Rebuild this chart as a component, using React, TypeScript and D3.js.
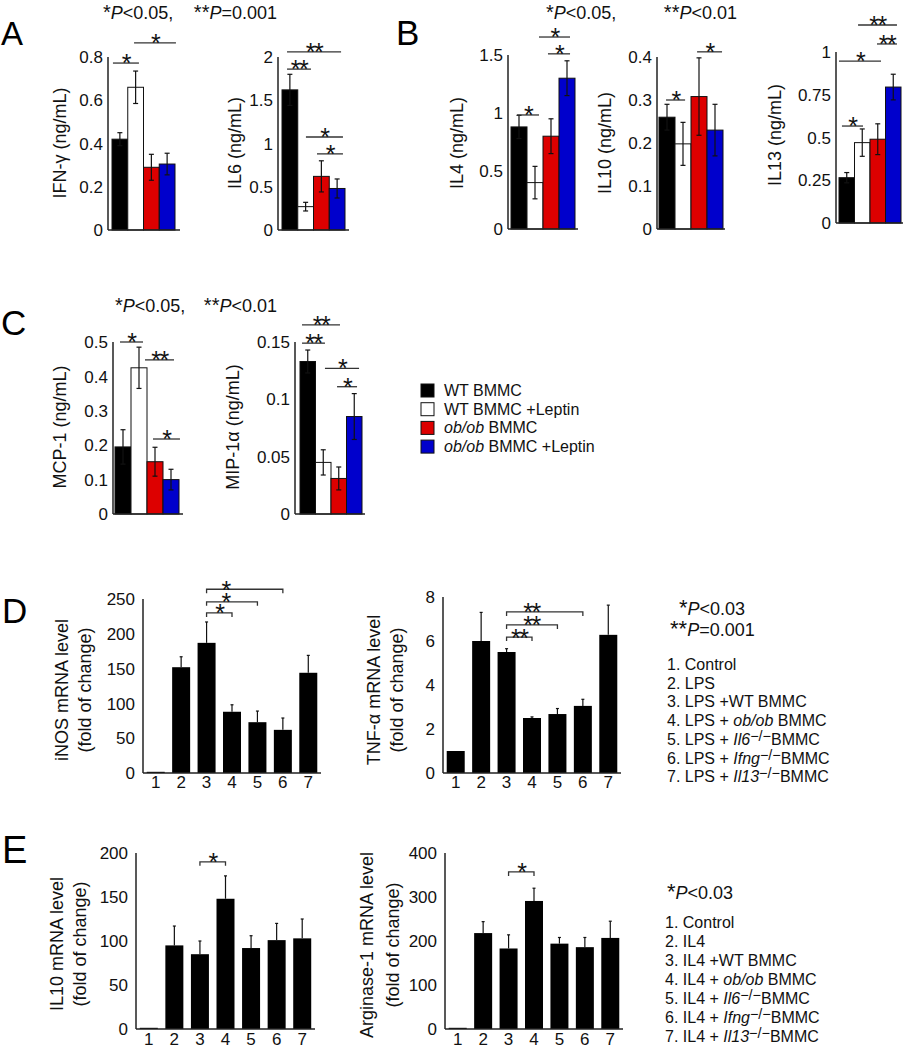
import React from "react";
import * as d3 from "d3";

const FONT = "'Liberation Sans', Arial, Helvetica, sans-serif";

// ---------- Panels A-C data (4 groups) ----------
const groupNames = ["WT BMMC", "WT BMMC +Leptin", "ob/ob BMMC", "ob/ob BMMC +Leptin"];
const groupColors = ["#000000", "#ffffff", "#dd0000", "#0000cc"];

const ifngMean = [0.42, 0.66, 0.29, 0.305];
const ifngErr = [0.03, 0.075, 0.06, 0.05];
const ifngTicks = [0, 0.2, 0.4, 0.6, 0.8];

const il6Mean = [1.62, 0.27, 0.62, 0.48];
const il6Err = [0.18, 0.05, 0.18, 0.11];
const il6Ticks = [0, 0.5, 1, 1.5, 2];

const il4Mean = [0.88, 0.4, 0.8, 1.3];
const il4Err = [0.1, 0.14, 0.15, 0.15];
const il4Ticks = [0, 0.5, 1, 1.5];

const il10Mean = [0.26, 0.198, 0.308, 0.23];
const il10Err = [0.03, 0.05, 0.09, 0.06];
const il10Ticks = [0, 0.1, 0.2, 0.3, 0.4];

const il13Mean = [0.265, 0.47, 0.49, 0.795];
const il13Err = [0.03, 0.08, 0.09, 0.075];
const il13Ticks = [0, 0.25, 0.5, 0.75, 1];

const mcp1Mean = [0.195, 0.425, 0.152, 0.1];
const mcp1Err = [0.05, 0.06, 0.042, 0.03];
const mcp1Ticks = [0, 0.1, 0.2, 0.3, 0.4, 0.5];

const mip1aMean = [0.133, 0.045, 0.031, 0.085];
const mip1aErr = [0.01, 0.011, 0.01, 0.02];
const mip1aTicks = [0, 0.05, 0.1, 0.15];

// significance lines: [from (bar units), to (bar units), y value, stars]
const ifngSig: [number, number, number, string][] = [[0.06, 1.71, 0.772, "*"], [1.4, 4.06, 0.865, "*"]];
const il6Sig: [number, number, number, string][] = [[0.32, 3.75, 2.06, "**"], [0.32, 1.84, 1.86, "**"], [1.52, 3.87, 1.075, "*"], [2.22, 3.87, 0.88, "*"]];
const il4Sig: [number, number, number, string][] = [[0.375, 1.75, 0.983, "*"], [1.75, 3.69, 1.655, "*"], [2.31, 3.69, 1.51, "*"]];
const il10Sig: [number, number, number, string][] = [[0.44, 1.63, 0.3, "*"], [2.38, 3.94, 0.412, "*"]];
const il13Sig: [number, number, number, string][] = [[0.19, 1.55, 0.567, "*"], [0.0, 2.71, 0.947, "*"], [2.45, 3.74, 1.047, "**"], [1.23, 3.74, 1.158, "**"]];
const mcp1Sig: [number, number, number, string][] = [[0.31, 1.75, 0.5, "*"], [1.875, 3.69, 0.448, "**"], [2.375, 4.06, 0.218, "*"]];
const mip1aSig: [number, number, number, string][] = [[0.13, 2.58, 0.165, "**"], [0.13, 1.61, 0.149, "**"], [1.61, 3.81, 0.127, "*"], [2.39, 3.68, 0.111, "*"]];

// ---------- Panels D-E data (7 conditions) ----------
const conditionIds = ["1", "2", "3", "4", "5", "6", "7"];

const inosMean = [1, 152, 187, 88, 73, 62, 144];
const inosErr = [0, 15, 30, 10, 16, 17, 25];
const inosTicks = [0, 50, 100, 150, 200, 250];
const inosSig: [number, number, number, string][] = [[2, 3, 230, "*"], [2, 4, 246, "*"], [2, 5, 264, "*"]];

const tnfMean = [1, 6.0, 5.5, 2.5, 2.68, 3.05, 6.28];
const tnfErr = [0, 1.3, 0.15, 0.05, 0.25, 0.3, 1.35];
const tnfTicks = [0, 2, 4, 6, 8];
const tnfSig: [number, number, number, string][] = [[2, 3, 6.18, "**"], [2, 4, 6.73, "**"], [2, 5, 7.32, "**"]];

const il10mMean = [1, 95, 85, 148, 92, 101, 103];
const il10mErr = [0, 22, 15, 26, 14, 19, 22];
const il10mTicks = [0, 50, 100, 150, 200];
const il10mSig: [number, number, number, string][] = [[2, 3, 190, "*"]];

const argMean = [1, 218, 183, 291, 194, 186, 207];
const argErr = [0, 26, 31, 29, 14, 22, 38];
const argTicks = [0, 100, 200, 300, 400];
const argSig: [number, number, number, string][] = [[2, 3, 357, "*"]];

type Seg = { t: string; i?: boolean; sup?: boolean };
const lpsList: Seg[][] = [
  [{ t: "1. Control" }],
  [{ t: "2. LPS" }],
  [{ t: "3. LPS +WT BMMC" }],
  [{ t: "4. LPS + " }, { t: "ob/ob", i: true }, { t: " BMMC" }],
  [{ t: "5. LPS + " }, { t: "Il6", i: true }, { t: "−/−", sup: true }, { t: "BMMC" }],
  [{ t: "6. LPS + " }, { t: "Ifng", i: true }, { t: "−/−", sup: true }, { t: "BMMC" }],
  [{ t: "7. LPS + " }, { t: "Il13", i: true }, { t: "−/−", sup: true }, { t: "BMMC" }],
];
const il4List: Seg[][] = [
  [{ t: "1. Control" }],
  [{ t: "2. IL4" }],
  [{ t: "3. IL4 +WT BMMC" }],
  [{ t: "4. IL4 + " }, { t: "ob/ob", i: true }, { t: " BMMC" }],
  [{ t: "5. IL4 + " }, { t: "Il6", i: true }, { t: "−/−", sup: true }, { t: "BMMC" }],
  [{ t: "6. IL4 + " }, { t: "Ifng", i: true }, { t: "−/−", sup: true }, { t: "BMMC" }],
  [{ t: "7. IL4 + " }, { t: "Il13", i: true }, { t: "−/−", sup: true }, { t: "BMMC" }],
];

const AX = "#222";
const TICK_FS = 17;
const LABEL_FS = 18;
const STAR_FS = 25;

function Segs({ x, y, segs, fs }: { x: number; y: number; segs: Seg[]; fs: number }) {
  let shifted = false;
  return (
    <text x={x} y={y} fontSize={fs} fontFamily={FONT} fill="#111">
      {segs.map((s, k) => {
        let dy = 0;
        if (s.sup && !shifted) { dy = -4; shifted = true; }
        else if (!s.sup && shifted) { dy = 4; shifted = false; }
        return (
          <tspan key={k} dy={dy || undefined} fontStyle={s.i ? "italic" : undefined} fontSize={s.sup ? fs * 0.9 : undefined}>
            {s.t}
          </tspan>
        );
      })}
    </text>
  );
}

function Stars({ x, y, st }: { x: number; y: number; st: string }) {
  return (
    <text x={x} y={y} textAnchor="middle" fontSize={STAR_FS} letterSpacing={-1.5} fontFamily={FONT} fill="#111">{st}</text>
  );
}

type GSpec = {
  mean: number[]; err: number[]; ticks: number[]; yMax: number;
  axisX: number; axisEnd: number; barStart: number; barEnd: number;
  yTop: number; yBot: number; label: string; labelX: number; labelY: number;
  sigs: [number, number, number, string][];
};

function GroupChart({ s }: { s: GSpec }) {
  const y = d3.scaleLinear().domain([0, s.yMax]).range([s.yBot, s.yTop]);
  const x = d3.scaleBand<number>().domain(d3.range(s.mean.length)).range([s.barStart, s.barEnd]).padding(0);
  const bw = x.bandwidth();
  const fx = (f: number) => s.barStart + f * bw;
  return (
    <g>
      {s.mean.map((v, i) => (
        <rect key={"b" + i} x={x(i)} y={y(v)} width={bw} height={y(0) - y(v)} fill={groupColors[i]} stroke="#111" strokeWidth={1} />
      ))}
      {s.mean.map((v, i) => {
        const cx = (x(i) as number) + bw / 2;
        return (
          <g key={"e" + i} stroke="#111" strokeWidth={1.2}>
            <line x1={cx} x2={cx} y1={y(v + s.err[i])} y2={y(v - s.err[i])} />
            <line x1={cx - 2.5} x2={cx + 2.5} y1={y(v + s.err[i])} y2={y(v + s.err[i])} />
            <line x1={cx - 2.5} x2={cx + 2.5} y1={y(v - s.err[i])} y2={y(v - s.err[i])} />
          </g>
        );
      })}
      <line x1={s.axisX} x2={s.axisX} y1={s.yBot} y2={y(s.yMax)} stroke={AX} strokeWidth={1.5} />
      <line x1={s.axisX} x2={s.axisEnd} y1={s.yBot} y2={s.yBot} stroke={AX} strokeWidth={1.5} />
      {s.ticks.map((t) => (
        <text key={"t" + t} x={s.axisX - 5} y={y(t)} dy="0.36em" textAnchor="end" fontSize={TICK_FS} fontFamily={FONT} fill="#111">
          {String(t)}
        </text>
      ))}
      <text transform={`translate(${s.labelX},${s.labelY}) rotate(-90)`} textAnchor="middle" dy="0.35em" fontSize={LABEL_FS} fontFamily={FONT} fill="#111">
        {s.label}
      </text>
      {s.sigs.map(([a, b, v, st], k) => (
        <g key={"s" + k}>
          <line x1={fx(a)} x2={fx(b)} y1={y(v)} y2={y(v)} stroke="#333" strokeWidth={1.3} />
          <Stars x={(fx(a) + fx(b)) / 2} y={y(v) + 9} st={st} />
        </g>
      ))}
    </g>
  );
}

type MSpec = {
  mean: number[]; err: number[]; ticks: number[]; yMax: number;
  axisX: number; axisEnd: number; yTop: number; yBot: number;
  label1: string; label2: string; lx1: number; lx2: number; labelY: number; tickY: number;
  sigs: [number, number, number, string][];
};

function MrnaChart({ s }: { s: MSpec }) {
  const y = d3.scaleLinear().domain([0, s.yMax]).range([s.yBot, s.yTop]);
  const x = d3.scalePoint<string>().domain(conditionIds).range([s.axisX, s.axisEnd]).padding(0.5);
  const bw = 18;
  return (
    <g>
      {s.mean.map((v, i) => {
        const cx = x(conditionIds[i]) as number;
        const h = Math.max(y(0) - y(v), 1.2);
        return <rect key={"b" + i} x={cx - bw / 2} y={y(0) - h} width={bw} height={h} fill="#000" />;
      })}
      {s.mean.map((v, i) => {
        if (!s.err[i]) return null;
        const cx = x(conditionIds[i]) as number;
        return (
          <g key={"e" + i} stroke="#111" strokeWidth={1.2}>
            <line x1={cx} x2={cx} y1={y(v)} y2={y(v + s.err[i])} />
            <line x1={cx - 1.5} x2={cx + 1.5} y1={y(v + s.err[i])} y2={y(v + s.err[i])} />
          </g>
        );
      })}
      <line x1={s.axisX} x2={s.axisX} y1={s.yBot} y2={y(s.yMax)} stroke={AX} strokeWidth={1.5} />
      <line x1={s.axisX} x2={s.axisEnd} y1={s.yBot} y2={s.yBot} stroke={AX} strokeWidth={1.5} />
      {s.ticks.map((t) => (
        <text key={"t" + t} x={s.axisX - 8} y={y(t)} dy="0.36em" textAnchor="end" fontSize={TICK_FS} fontFamily={FONT} fill="#111">
          {String(t)}
        </text>
      ))}
      {conditionIds.map((c) => (
        <text key={"x" + c} x={x(c)} y={s.tickY} textAnchor="middle" fontSize={TICK_FS} fontFamily={FONT} fill="#111">{c}</text>
      ))}
      <text transform={`translate(${s.lx1},${s.labelY}) rotate(-90)`} textAnchor="middle" dy="0.35em" fontSize={LABEL_FS} fontFamily={FONT} fill="#111">{s.label1}</text>
      <text transform={`translate(${s.lx2},${s.labelY}) rotate(-90)`} textAnchor="middle" dy="0.35em" fontSize={LABEL_FS} fontFamily={FONT} fill="#111">{s.label2}</text>
      {s.sigs.map(([a, b, v, st], k) => {
        const x1 = x(conditionIds[a]) as number;
        const x2 = x(conditionIds[b]) as number;
        const cx = x1 + Math.min((x2 - x1) / 2, 13 + 6 * st.length);
        return (
          <g key={"s" + k}>
            <path d={`M${x1},${y(v) + 4}V${y(v)}H${x2}V${y(v) + 4}`} fill="none" stroke="#333" strokeWidth={1.3} />
            <Stars x={cx} y={y(v) + 9.5} st={st} />
          </g>
        );
      })}
    </g>
  );
}

function PText({ x, y, stars, rest, fs, anchor, starFs }: { x: number; y: number; stars: string; rest: string; fs: number; anchor?: string; starFs?: number }) {
  return (
    <text x={x} y={y} fontSize={fs} fontFamily={FONT} fill="#111" textAnchor={anchor}>
      <tspan fontSize={starFs || fs}>{stars}</tspan>
      <tspan fontStyle="italic">P</tspan>
      {rest}
    </text>
  );
}

export default function App() {
  const ifng: GSpec = { mean: ifngMean, err: ifngErr, ticks: ifngTicks, yMax: 0.8, axisX: 108, axisEnd: 180, barStart: 112, barEnd: 175, yTop: 57, yBot: 230, label: "IFN-γ (ng/mL)", labelX: 60, labelY: 143, sigs: ifngSig };
  const il6: GSpec = { mean: il6Mean, err: il6Err, ticks: il6Ticks, yMax: 2, axisX: 278, axisEnd: 349, barStart: 282, barEnd: 345, yTop: 57, yBot: 230, label: "IL6 (ng/mL)", labelX: 235, labelY: 143, sigs: il6Sig };
  const il4: GSpec = { mean: il4Mean, err: il4Err, ticks: il4Ticks, yMax: 1.5, axisX: 508, axisEnd: 578, barStart: 511, barEnd: 575, yTop: 55, yBot: 229, label: "IL4 (ng/mL)", labelX: 457, labelY: 143, sigs: il4Sig };
  const il10: GSpec = { mean: il10Mean, err: il10Err, ticks: il10Ticks, yMax: 0.4, axisX: 657, axisEnd: 725, barStart: 659, barEnd: 723, yTop: 57, yBot: 229, label: "IL10 (ng/mL)", labelX: 605, labelY: 143, sigs: il10Sig };
  const il13: GSpec = { mean: il13Mean, err: il13Err, ticks: il13Ticks, yMax: 1, axisX: 836, axisEnd: 903, barStart: 839, barEnd: 901, yTop: 52, yBot: 223, label: "IL13 (ng/mL)", labelX: 775, labelY: 135, sigs: il13Sig };
  const mcp1: GSpec = { mean: mcp1Mean, err: mcp1Err, ticks: mcp1Ticks, yMax: 0.5, axisX: 113, axisEnd: 183, barStart: 115, barEnd: 179, yTop: 342, yBot: 514, label: "MCP-1 (ng/mL)", labelX: 60, labelY: 427, sigs: mcp1Sig };
  const mip1a: GSpec = { mean: mip1aMean, err: mip1aErr, ticks: mip1aTicks, yMax: 0.15, axisX: 295, axisEnd: 365, barStart: 300, barEnd: 362, yTop: 342, yBot: 514, label: "MIP-1α (ng/mL)", labelX: 233, labelY: 427, sigs: mip1aSig };

  const inos: MSpec = { mean: inosMean, err: inosErr, ticks: inosTicks, yMax: 250, axisX: 143, axisEnd: 321, yTop: 599, yBot: 773, label1: "iNOS mRNA level", label2: "(fold of change)", lx1: 62, lx2: 85, labelY: 690, tickY: 788, sigs: inosSig };
  const tnf: MSpec = { mean: tnfMean, err: tnfErr, ticks: tnfTicks, yMax: 8, axisX: 443, axisEnd: 621, yTop: 597, yBot: 773, label1: "TNF-α mRNA level", label2: "(fold of change)", lx1: 374, lx2: 397, labelY: 690, tickY: 788, sigs: tnfSig };
  const il10m: MSpec = { mean: il10mMean, err: il10mErr, ticks: il10mTicks, yMax: 200, axisX: 136, axisEnd: 315, yTop: 853, yBot: 1029, label1: "IL10 mRNA level", label2: "(fold of change)", lx1: 57, lx2: 80, labelY: 944, tickY: 1045, sigs: il10mSig };
  const arg: MSpec = { mean: argMean, err: argErr, ticks: argTicks, yMax: 400, axisX: 445, axisEnd: 623, yTop: 853, yBot: 1029, label1: "Arginase-1 mRNA level", label2: "(fold of change)", lx1: 367, lx2: 393, labelY: 945, tickY: 1045, sigs: argSig };

  return (
    <svg width={906} height={1050} style={{ position: "absolute", left: 0, top: 0, background: "#fff" }} fontFamily={FONT}>
      <rect width={906} height={1050} fill="#fff" />
      {/* Panel letters */}
      <text x={1} y={45} fontSize={33} fontFamily={FONT}>A</text>
      <text x={396} y={45} fontSize={35} fontFamily={FONT}>B</text>
      <text x={1} y={335} fontSize={35} fontFamily={FONT}>C</text>
      <text x={2} y={623} fontSize={35} fontFamily={FONT}>D</text>
      <text x={2} y={863} fontSize={38} fontFamily={FONT}>E</text>

      {/* Titles */}
      <PText x={103} y={19} stars="*" rest="<0.05," fs={18} starFs={20} />
      <PText x={277} y={19} stars="**" rest="=0.001" fs={18} starFs={20} anchor="end" />
      <PText x={546} y={19} stars="*" rest="<0.05," fs={18} starFs={20} />
      <PText x={737} y={19} stars="**" rest="<0.01" fs={18} starFs={20} anchor="end" />
      <PText x={115} y={312} stars="*" rest="<0.05," fs={18} starFs={20} />
      <PText x={277} y={312} stars="**" rest="<0.01" fs={18} starFs={20} anchor="end" />

      <GroupChart s={ifng} />
      <GroupChart s={il6} />
      <GroupChart s={il4} />
      <GroupChart s={il10} />
      <GroupChart s={il13} />
      <GroupChart s={mcp1} />
      <GroupChart s={mip1a} />

      {/* Legend */}
      {groupNames.map((n, i) => {
        const ty = 384 + i * 18.7;
        const parts = n.startsWith("ob/ob") ? [{ t: "ob/ob", i: true }, { t: n.slice(5) }] : [{ t: n }];
        return (
          <g key={"lg" + i}>
            <rect x={421} y={ty} width={13} height={13} fill={groupColors[i]} stroke="#111" strokeWidth={1} />
            <Segs x={444} y={ty + 12} segs={parts} fs={16} />
          </g>
        );
      })}

      <MrnaChart s={inos} />
      <MrnaChart s={tnf} />
      <MrnaChart s={il10m} />
      <MrnaChart s={arg} />

      {/* D side text */}
      <PText x={679} y={615} stars="*" rest="<0.03" fs={18} starFs={22} />
      <PText x={670} y={636} stars="**" rest="=0.001" fs={18} starFs={22} />
      {lpsList.map((segs, i) => (
        <Segs key={"l" + i} x={667} y={670 + i * 18.7} segs={segs} fs={16} />
      ))}

      {/* E side text */}
      <PText x={667} y={899} stars="*" rest="<0.03" fs={18} starFs={22} />
      {il4List.map((segs, i) => (
        <Segs key={"m" + i} x={665} y={928 + i * 19} segs={segs} fs={16} />
      ))}
    </svg>
  );
}
